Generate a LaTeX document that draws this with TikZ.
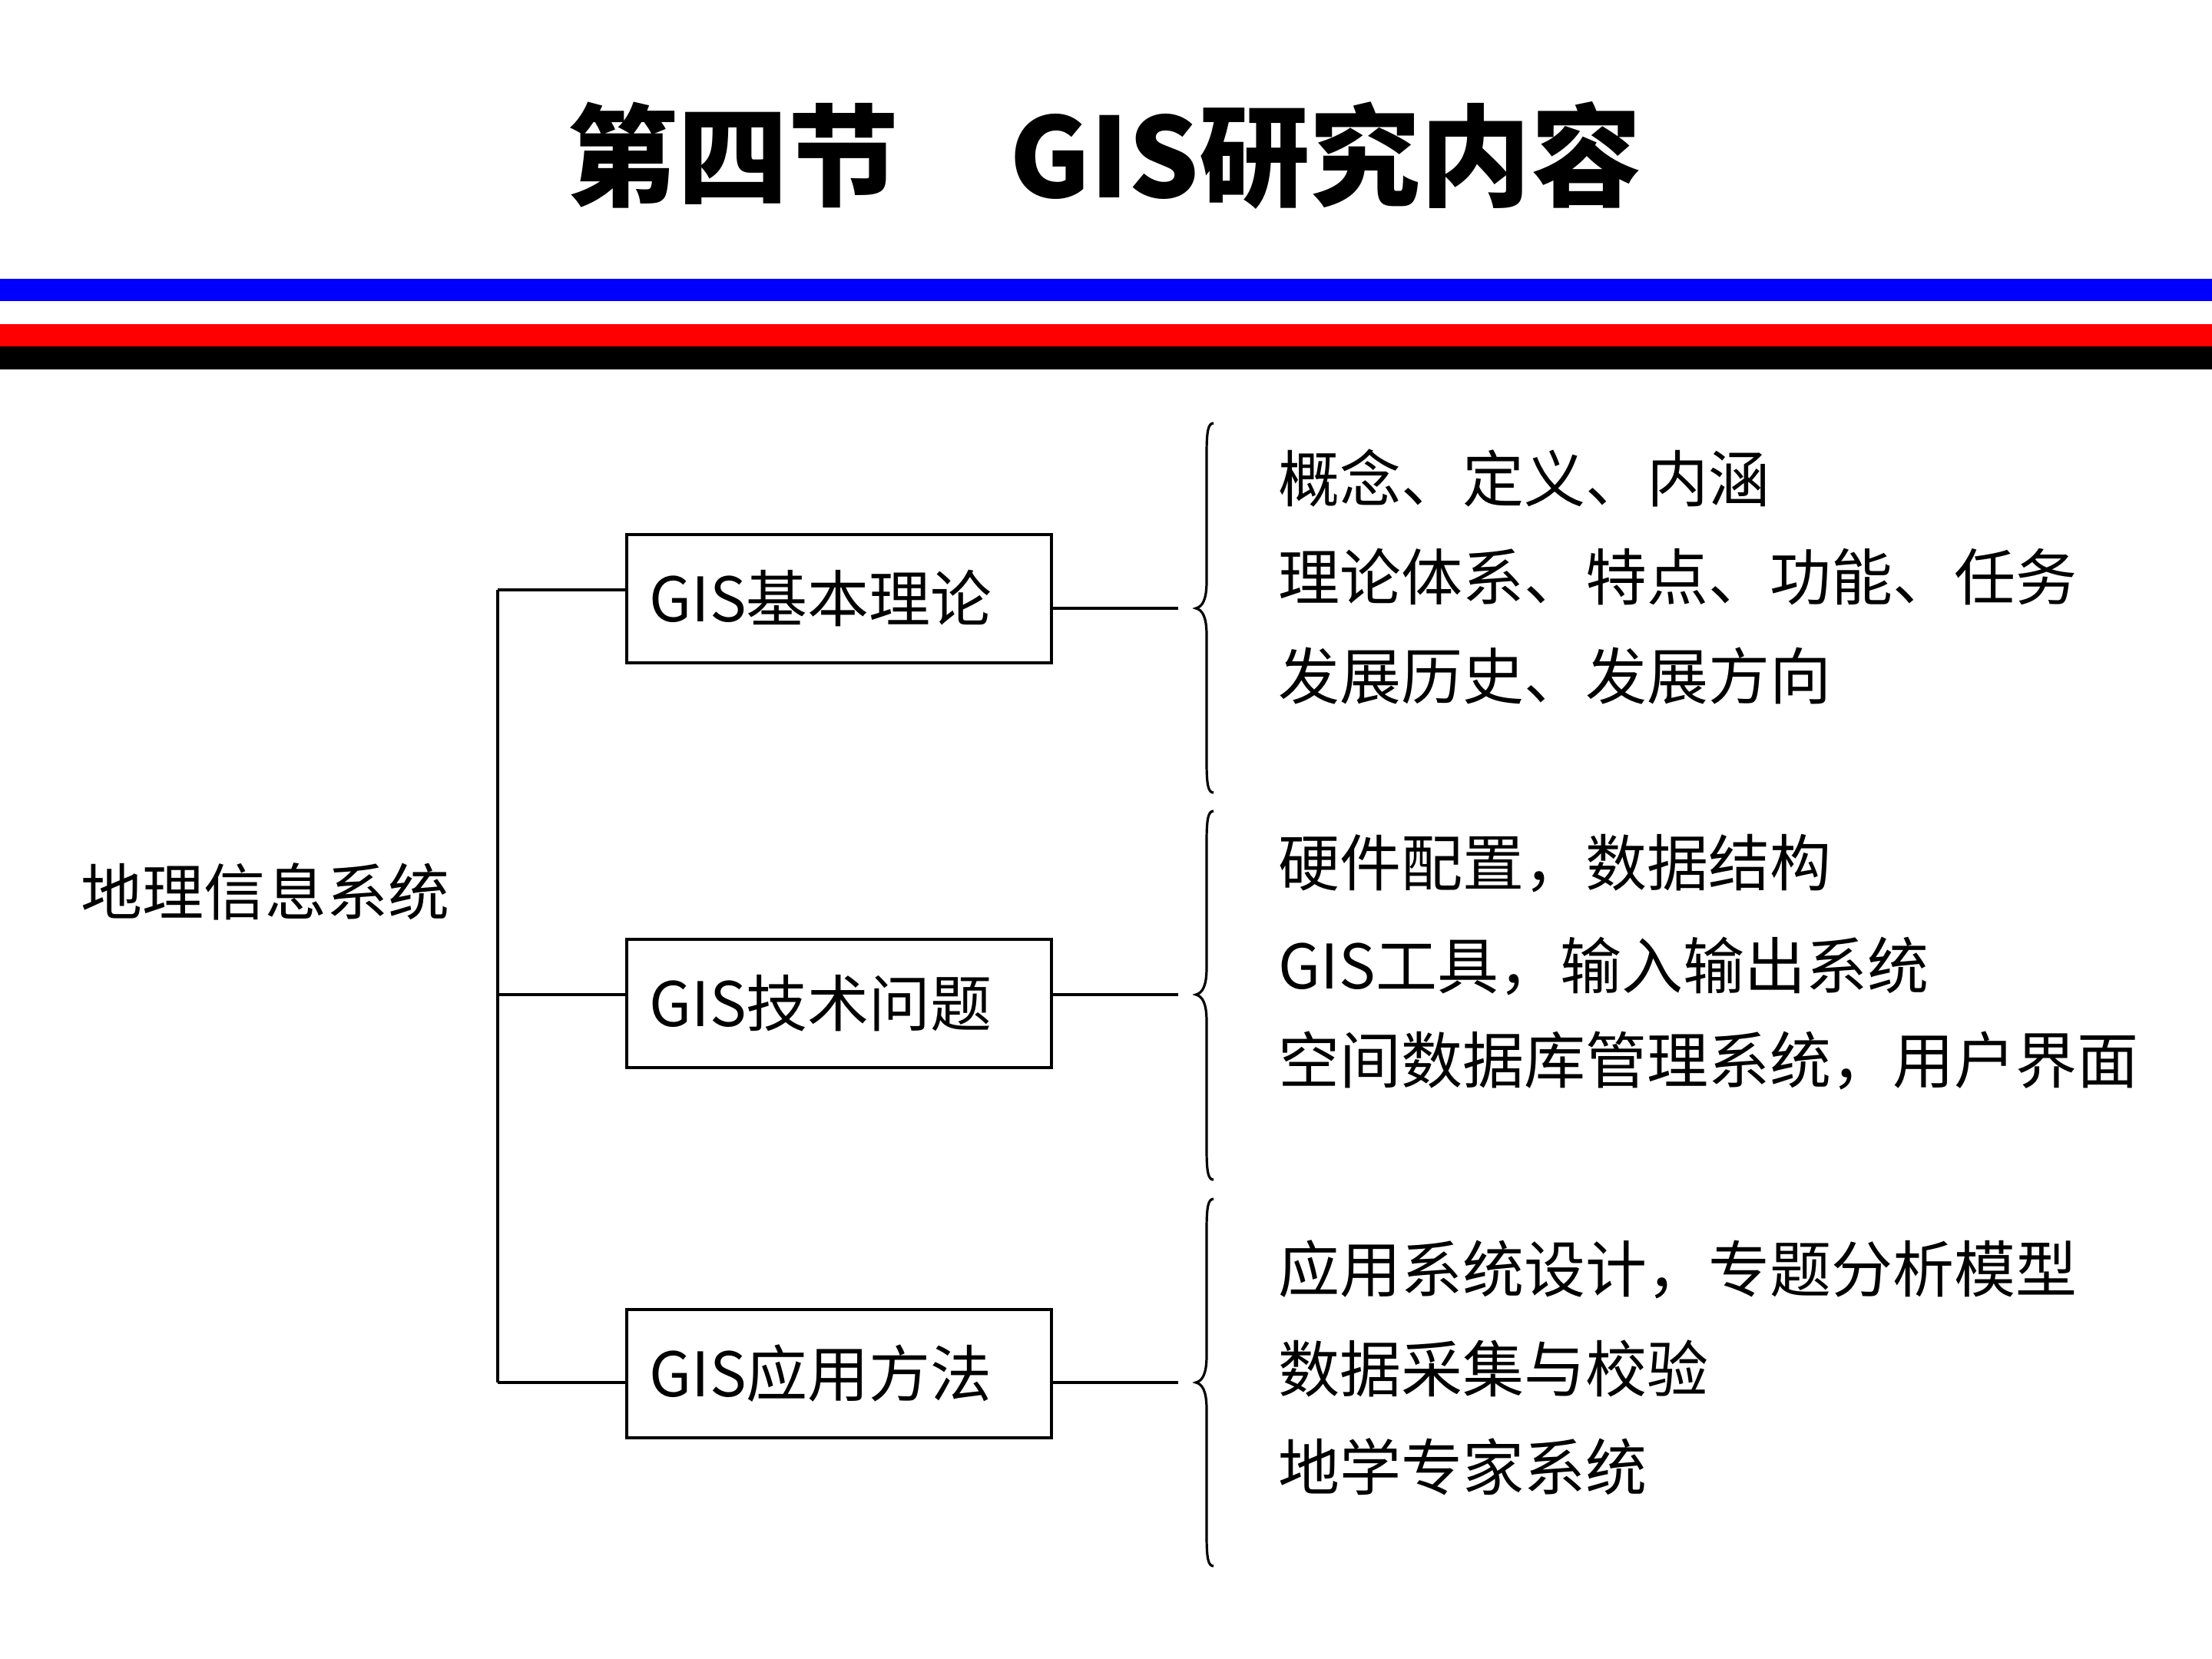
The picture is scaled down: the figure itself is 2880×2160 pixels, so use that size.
\documentclass[tikz,border=0pt]{standalone}
\usepackage{fontspec}
\setmainfont{Noto Sans CJK SC}
\newfontfamily\cjk{Noto Sans CJK SC}
\usetikzlibrary{calc}
\newcommand{\gisbrace}[4]{%
  \draw[bracestyle] (1580,#2) .. controls (1573,#2) and (1571,#2+10) .. (1571,#2+40)
    -- (1571,#3-35) .. controls (1571,#3-10) and (1565,#3-2) .. (1557,#3)
    .. controls (1565,#3+2) and (1571,#3+10) .. (1571,#3+35)
    -- (1571,#4-40) .. controls (1571,#4-10) and (1573,#4) .. (1580,#4);
  \coordinate (#1) at (1534,#3);
}
\begin{document}
\begin{tikzpicture}[x=0.25pt,y=-0.25pt,
  gisbox/.style={draw, line width=1pt, text width=123.25pt, inner xsep=7.5pt, inner ysep=0pt,
     minimum height=41.75pt, align=left, font=\cjk\fontsize{20}{24}\selectfont},
  item/.style={anchor=west, inner sep=0pt, font=\cjk\fontsize{20}{24}\selectfont},
  conn/.style={line width=1pt},
  bracestyle/.style={line width=0.8pt}]
\path[use as bounding box, fill=white] (0,0) rectangle (2880,2160);
% title
\node[font=\cjk\bfseries\fontsize{36}{40}\selectfont, inner sep=0pt] (title) at (1438,202) {第四节\hspace{1em}GIS研究内容};
% stripes
\fill[blue] (0,363) rectangle (2880,392);
\fill[red] (0,422) rectangle (2880,451);
\fill[black] (0,451) rectangle (2880,481);
% root
\node[item] (root) at (105,1161) {地理信息系统};
% boxes
\node[gisbox] (b1) at (1092,779.5) {GIS基本理论};
\node[gisbox] (b2) at (1092,1306.5) {GIS技术问题};
\node[gisbox] (b3) at (1092,1788) {GIS应用方法};
% trunk
\coordinate (t1) at (648,768);
\coordinate (t2) at (648,1295);
\coordinate (t3) at (648,1800);
\draw[conn] (t1) -- (t3);
\draw[conn] (t1) -- (t1 -| b1.west);
\draw[conn] (t2) -- (t2 -| b2.west);
\draw[conn] (t3) -- (t3 -| b3.west);
% braces
\gisbrace{k1}{551}{792}{1032}
\gisbrace{k2}{1056}{1295}{1536}
\gisbrace{k3}{1561}{1800}{2039}
\draw[conn] (b1.east |- k1) -- (k1);
\draw[conn] (b2.east |- k2) -- (k2);
\draw[conn] (b3.east |- k3) -- (k3);
% items
\node[item] (i11) at (1664,623) {概念、定义、内涵};
\node[item] (i12) at (1664,751) {理论体系、特点、功能、任务};
\node[item] (i13) at (1664,880) {发展历史、发展方向};
\node[item] (i21) at (1664,1124) {硬件配置，数据结构};
\node[item] (i22) at (1664,1258) {GIS工具，输入输出系统};
\node[item] (i23) at (1664,1381) {空间数据库管理系统，用户界面};
\node[item] (i31) at (1664,1653) {应用系统设计，专题分析模型};
\node[item] (i32) at (1664,1782) {数据采集与校验};
\node[item] (i33) at (1664,1910) {地学专家系统};
\end{tikzpicture}
\end{document}
